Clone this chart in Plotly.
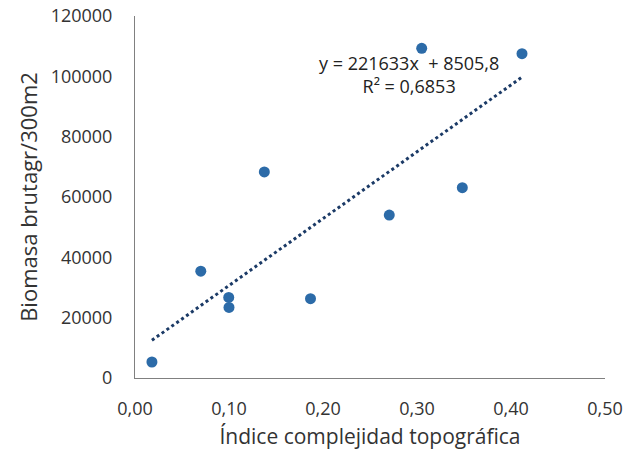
import plotly.graph_objects as go
import numpy as np

indice = [0.018, 0.070, 0.0997, 0.100, 0.1376, 0.1867, 0.2705, 0.3482, 0.305, 0.4117]
biomasa = [5300, 35400, 26700, 23400, 68300, 26300, 54000, 63100, 109300, 107500]
slope = 221633
intercept = 8505.8
eq_text = "y = 221633x  + 8505,8<br>R² = 0,6853"
x_ticks = [0, 0.1, 0.2, 0.3, 0.4, 0.5]
x_tick_labels = ["0,00", "0,10", "0,20", "0,30", "0,40", "0,50"]
y_ticks = [0, 20000, 40000, 60000, 80000, 100000, 120000]
y_tick_labels = ["0", "20000", "40000", "60000", "80000", "100000", "120000"]

font = "Open Sans"
tx = np.array([min(indice), max(indice)])
ty = slope * tx + intercept

fig = go.Figure()
fig.add_trace(go.Scatter(x=indice, y=biomasa, mode="markers",
                         marker=dict(color="#2C6BA8", size=11), showlegend=False))
fig.add_trace(go.Scatter(x=tx, y=ty, mode="lines",
                         line=dict(color="#1B3A66", width=3, dash="dot"), showlegend=False))
fig.add_annotation(x=0.291, y=100500, xref="x", yref="y", text=eq_text, showarrow=False,
                   font=dict(family=font, size=18, color="#222"), align="center")

fig.update_layout(
    width=625, height=456,
    margin=dict(l=135, r=20, t=16, b=78),
    plot_bgcolor="white", paper_bgcolor="white",
    font=dict(family=font, size=18, color="#333"),
    xaxis=dict(range=[0, 0.5], tickvals=x_ticks, ticktext=x_tick_labels, automargin=False,
               showgrid=False, zeroline=False, showline=True, linecolor="#808080", linewidth=1,
               ticks="", ticklabelstandoff=14,
               title=dict(text="Índice complejidad topográfica", font=dict(size=21), standoff=10)),
    yaxis=dict(range=[0, 120000], tickvals=y_ticks, ticktext=y_tick_labels, automargin=False,
               showgrid=False, zeroline=False, showline=True, linecolor="#808080", linewidth=1,
               ticks="", ticklabelstandoff=18,
               title=dict(text="Biomasa brutagr/300m2", font=dict(size=22), standoff=6)),
)
fig.write_html("out.html", config={"displayModeBar": False},
               post_script="document.body.style.margin='0';")
